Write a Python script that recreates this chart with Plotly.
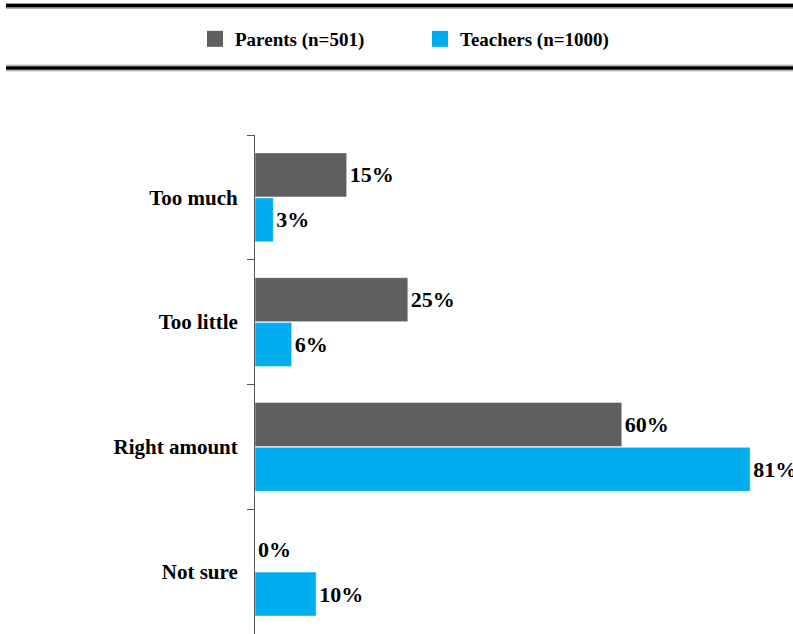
import plotly.graph_objects as go

# data
categories = ["Too much", "Too little", "Right amount", "Not sure"]
parents = [15, 25, 60, 0]
teachers = [3, 6, 81, 10]
series_names = ["Parents (n=501)", "Teachers (n=1000)"]
colors = ["#5f5f5f", "#00adef"]

W, H = 793, 634
ML, MR, MT, MB = 255, 0, 135, 0
FONT = "Liberation Serif, Times New Roman, serif"


def px_x(x):
    return (x - ML) / (W - ML - MR)


def px_y(y):
    return 1 + (MT - y) / (H - MT - MB)


fig = go.Figure()
for name, vals, color in zip(series_names, [parents, teachers], colors):
    fig.add_trace(go.Bar(
        y=categories,
        x=vals,
        name=name,
        legendgroup=name,
        showlegend=False,
        orientation="h",
        marker=dict(color=color, line=dict(color="white", width=0.5)),
        text=[f"{v}%" for v in vals],
        textposition="outside",
        textfont=dict(family=FONT, size=22, color="black", weight="bold"),
        cliponaxis=False,
    ))

# legend entries with bigger square swatches than the bar default
for name, color in zip(series_names, colors):
    fig.add_trace(go.Scatter(
        x=[None], y=[None],
        name=name,
        legendgroup=name,
        mode="markers",
        marker=dict(symbol="square", size=17, color=color),
    ))

# double rules above and below the legend
shapes = []
for y_gray1, y_black, y_gray2 in [(3.5, 5.8, 8.3), (65.2, 68.0, 70.8)]:
    shapes.append(dict(type="line", xref="paper", yref="paper",
                       x0=px_x(6), x1=px_x(W + 5), y0=px_y(y_gray1), y1=px_y(y_gray1),
                       line=dict(color="#9a9a9a", width=1)))
    shapes.append(dict(type="line", xref="paper", yref="paper",
                       x0=px_x(6), x1=px_x(W + 5), y0=px_y(y_black), y1=px_y(y_black),
                       line=dict(color="black", width=3.5)))
    shapes.append(dict(type="line", xref="paper", yref="paper",
                       x0=px_x(6), x1=px_x(W + 5), y0=px_y(y_gray2), y1=px_y(y_gray2),
                       line=dict(color="#9a9a9a", width=1)))

fig.update_layout(
    width=W,
    height=H,
    margin=dict(l=ML, r=MR, t=MT, b=MB),
    paper_bgcolor="white",
    plot_bgcolor="white",
    barmode="group",
    bargap=0.28,
    bargroupgap=0.02,
    font=dict(family=FONT, color="black"),
    shapes=shapes,
    legend=dict(
        orientation="h",
        xref="container", yref="container",
        x=195 / W, y=1 - 39 / H,
        xanchor="left", yanchor="middle",
        entrywidth=180,
        entrywidthmode="pixels",
        itemwidth=30,
        font=dict(family=FONT, size=19, color="black", weight="bold"),
        traceorder="normal",
    ),
    showlegend=True,
)

fig.update_xaxes(
    range=[0, 88],
    visible=False,
    showgrid=False,
    zeroline=False,
)
fig.update_yaxes(
    autorange="reversed",
    showline=True,
    linecolor="#555555",
    linewidth=1,
    ticks="outside",
    tickson="boundaries",
    ticklen=7,
    tickcolor="#555555",
    ticklabelstandoff=12,
    tickfont=dict(family=FONT, size=21, color="black", weight="bold"),
    showgrid=False,
)

# the page's default body margin would shift the chart by 8px
fig.write_html("out.html", config={"displayModeBar": False},
               post_script="document.body.style.margin='0';")
